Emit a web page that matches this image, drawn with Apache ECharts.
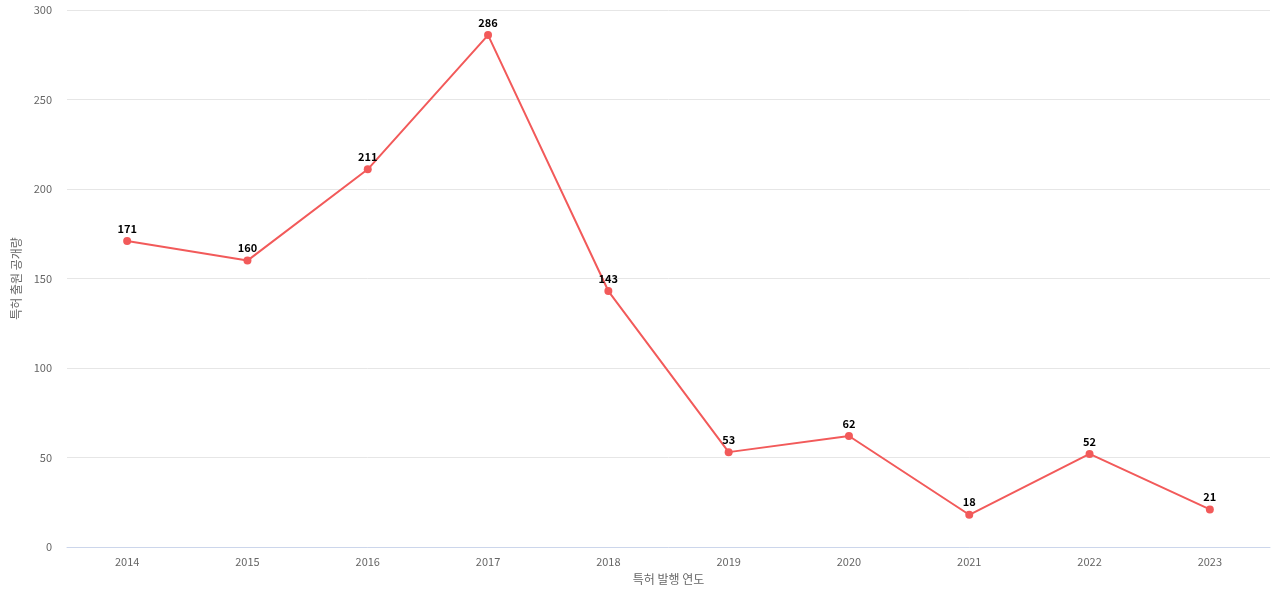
<!DOCTYPE html>
<html>
<head>
<meta charset="utf-8">
<script src="https://cdn.jsdelivr.net/npm/echarts@6/dist/echarts.min.js"></script>
<style>html,body{margin:0;padding:0;}#chart{width:1280px;height:600px;}</style>
</head>
<body>
<div id="chart"></div>
<script>
const years = ['2014', '2015', '2016', '2017', '2018', '2019', '2020', '2021', '2022', '2023'];
const counts = [171, 160, 211, 286, 143, 53, 62, 18, 52, 21];

const chart = echarts.init(document.getElementById('chart'));
chart.setOption({
    textStyle: {fontFamily: 'Noto Sans CJK KR, sans-serif'},
    grid: {left: 67, right: 10, top: 10, bottom: 53},
    xAxis: {
        type: 'category',
        data: years,
        name: '특허 발행 연도',
        nameLocation: 'middle',
        nameGap: 26,
        nameTextStyle: {color: '#666', fontSize: 12},
        axisLine: {lineStyle: {color: '#ccd6eb'}},
        axisTick: {show: false},
        axisLabel: {color: '#666', fontSize: 11, margin: 9}
    },
    yAxis: {
        type: 'value',
        min: 0,
        max: 300,
        interval: 50,
        name: '특허 출원 공개량',
        nameLocation: 'middle',
        nameGap: 42,
        nameTextStyle: {color: '#666', fontSize: 12},
        axisLabel: {color: '#666', fontSize: 11, margin: 15},
        splitLine: {lineStyle: {color: '#e6e6e6'}}
    },
    series: [{
        type: 'line',
        data: counts,
        symbol: 'circle',
        symbolSize: 8,
        itemStyle: {color: '#f25a5a'},
        lineStyle: {width: 2, color: '#f25a5a'},
        label: {show: true, position: 'top', distance: 3, color: '#000', fontWeight: 'bold', fontSize: 11}
    }]
});
</script>
</body>
</html>
